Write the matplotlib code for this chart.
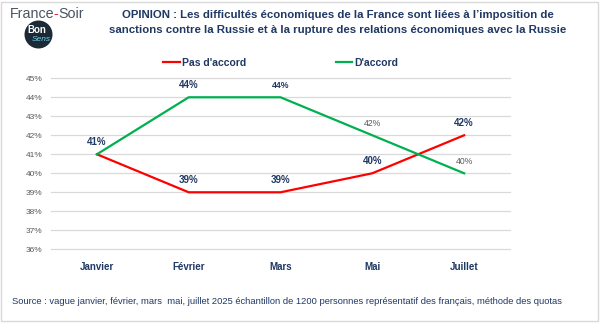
import matplotlib.pyplot as plt
from matplotlib.patches import Circle, Rectangle

months = ["Janvier", "Février", "Mars", "Mai", "Juillet"]
pas_accord = [41, 39, 39, 40, 42]
accord = [41, 44, 44, 42, 40]
yticks = [36, 37, 38, 39, 40, 41, 42, 43, 44, 45]

NAVY = "#1F3864"
GREY = "#595959"
RED = "#FF0000"
GREEN = "#00B050"

plt.rcParams["font.family"] = ["Liberation Sans", "DejaVu Sans"]

fig = plt.figure(figsize=(6, 3.24), dpi=100)
ax = fig.add_axes([0.085, 0.2306, 0.765, 0.5278])

x = list(range(len(months)))
ax.plot(x, pas_accord, color=RED, lw=1.6, label="Pas d'accord", zorder=3)
ax.plot(x, accord, color=GREEN, lw=1.6, label="D'accord", zorder=3)

ax.set_xlim(-0.5, len(months) - 0.5)
ax.set_ylim(36, 45)
ax.set_yticks(yticks)
ax.set_yticklabels([f"{v}%" for v in yticks])
ax.set_xticks(x)
ax.set_xticklabels(months, fontweight="bold", color=NAVY, fontsize=7)
ax.tick_params(axis="x", length=0, pad=9)
ax.tick_params(axis="y", length=0, pad=6, labelsize=6, labelcolor=GREY)
for s in ax.spines.values():
    s.set_visible(False)
ax.grid(axis="y", color="#D9D9D9", lw=0.9, clip_on=False)
ax.set_axisbelow(True)

# value labels above each point
for i, v in enumerate(pas_accord):
    ax.annotate(f"{v}%", (i, v), xytext=(0, 5), textcoords="offset points",
                ha="center", va="bottom", fontsize=7, fontweight="bold", color=NAVY)
acc_style = [None, ("bold", NAVY, 7), ("bold", NAVY, 6.3), ("normal", GREY, 6.2), ("normal", GREY, 6.2)]
for i, v in enumerate(accord):
    if acc_style[i] is None:
        continue
    w, c, fs = acc_style[i]
    ax.annotate(f"{v}%", (i, v), xytext=(0, 5), textcoords="offset points",
                ha="center", va="bottom", fontsize=fs, fontweight=w, color=c)

ax.legend(loc="lower left", bbox_to_anchor=(0.224, 1.005), ncol=2, frameon=False,
          handlelength=1.6, handletextpad=0.2, columnspacing=8.6,
          prop={"weight": "bold", "size": 7.5}, labelcolor=NAVY)

# title
fig.text(0.563, 0.968, "OPINION : Les difficultés économiques de la France sont liées à l’imposition de\n"
         "sanctions contre la Russie et à la rupture des relations économiques avec la Russie",
         ha="center", va="top", fontsize=8.2, fontweight="bold", color=NAVY, linespacing=1.6)

# source line
fig.text(0.02, 0.068, "Source : vague janvier, février, mars  mai, juillet 2025 échantillon de 1200 personnes "
         "représentatif des français, méthode des quotas",
         ha="left", va="center", fontsize=6.75, color=NAVY)

# France-Soir wordmark, pieces placed one after another
r = fig.canvas.get_renderer()
xpos = 10
for part, col, kern in [("France", "#4A5563", 1), ("-", "#E3262A", 0), ("Soir", "#4A5563", 0)]:
    t = fig.text(xpos / 600, 1 - 7 / 324, part, ha="left", va="top", fontsize=10.3, color=col)
    xpos += t.get_window_extent(r).width - kern

# Bon Sens badge
circ = Circle((0.385, 3.24 - 0.345), 0.14, transform=fig.dpi_scale_trans,
              facecolor="#1B2A36", edgecolor="none")
fig.patches.append(circ)
fig.text(37 / 600, 1 - 30 / 324, "Bon", ha="center", va="center", fontsize=7,
         color="white", fontweight="bold")
fig.text(41 / 600, 1 - 39.5 / 324, "Sens", ha="center", va="center", fontsize=6,
         color="#6FD3E8", style="italic")

# outer frame
fig.patches.append(Rectangle((0.002, 0.01), 0.995, 0.985, transform=fig.transFigure,
                             fill=False, edgecolor="#D9D9D9", lw=1))

fig.savefig("out.png", dpi=100)
